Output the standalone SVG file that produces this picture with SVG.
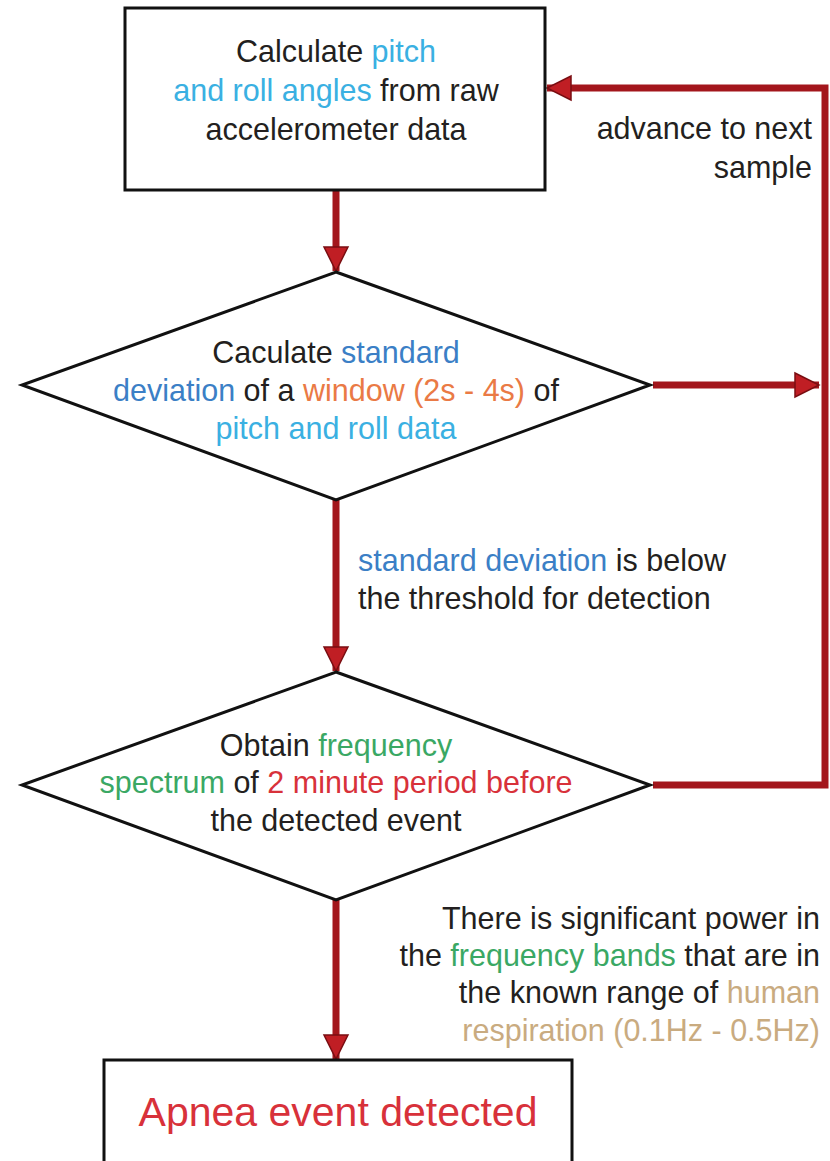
<svg xmlns="http://www.w3.org/2000/svg" width="830" height="1161" viewBox="0 0 830 1161">
<defs>
<style>
.t{font-family:"Liberation Sans Narrow","Liberation Sans",Arial,sans-serif;font-size:30.5px;fill:#231f20}
.node{fill:#fff;stroke:#111;stroke-width:3}
.c{fill:none;stroke:#a3161c;stroke-width:7}
.lb{fill:#3ab0e2}.mb{fill:#3b7fc6}.or{fill:#ea7a45}.gr{fill:#3aa864}.rd{fill:#d8313a}.tn{fill:#c9ab80}
</style>
<marker id="ah" markerUnits="userSpaceOnUse" markerWidth="28" markerHeight="28" viewBox="0 0 28 28" refX="26" refY="14" orient="auto">
<path d="M2,2 L26,14 L2,26 Z" fill="#c01e24" stroke="#7a0e12" stroke-width="1.5"/>
</marker>
</defs>
<rect width="830" height="1161" fill="#fff"/>
<g id="connectors">
<line class="c" x1="336" y1="191" x2="336" y2="271" marker-end="url(#ah)"/>
<line class="c" x1="336" y1="500" x2="336" y2="671" marker-end="url(#ah)"/>
<line class="c" x1="336" y1="900" x2="336" y2="1059" marker-end="url(#ah)"/>
<line class="c" x1="653" y1="385" x2="819" y2="385" marker-end="url(#ah)"/>
<polyline class="c" points="653,785 825,785 825,88 547,88" marker-end="url(#ah)"/>
<text class="t" x="812" y="139" text-anchor="end">advance to next</text>
<text class="t" x="812" y="178" text-anchor="end">sample</text>
<text class="t" x="358" y="571"><tspan class="mb">standard deviation</tspan> is below</text>
<text class="t" x="358" y="609">the threshold for detection</text>
<text class="t" x="820" y="929" text-anchor="end">There is significant power in</text>
<text class="t" x="820" y="966" text-anchor="end">the <tspan class="gr">frequency bands</tspan> that are in</text>
<text class="t" x="820" y="1003" text-anchor="end">the known range of <tspan class="tn">human</tspan></text>
<text class="t tn" x="820" y="1041" text-anchor="end">respiration (0.1Hz - 0.5Hz)</text>
</g>
<g id="n1">
<rect class="node" x="125" y="8" width="420" height="182"/>
<text class="t" x="336" y="62" text-anchor="middle">Calculate <tspan class="lb">pitch</tspan></text>
<text class="t" x="336" y="101" text-anchor="middle"><tspan class="lb">and roll angles</tspan> from raw</text>
<text class="t" x="336" y="140" text-anchor="middle">accelerometer data</text>
</g>
<g id="n2">
<polygon class="node" points="336,272 650,385 336,500 22,385"/>
<text class="t" x="336" y="363" text-anchor="middle">Caculate <tspan class="mb">standard</tspan></text>
<text class="t" x="336" y="401" text-anchor="middle"><tspan class="mb">deviation</tspan> of a <tspan class="or">window (2s - 4s)</tspan> of</text>
<text class="t lb" x="336" y="439" text-anchor="middle">pitch and roll data</text>
</g>
<g id="n3">
<polygon class="node" points="336,672 650,785 336,900 22,785"/>
<text class="t" x="336" y="756" text-anchor="middle">Obtain <tspan class="gr">frequency</tspan></text>
<text class="t" x="336" y="793" text-anchor="middle"><tspan class="gr">spectrum</tspan> of <tspan class="rd">2 minute period before</tspan></text>
<text class="t" x="336" y="831" text-anchor="middle">the detected event</text>
</g>
<g id="n4">
<rect class="node" x="104" y="1060" width="468" height="120"/>
<text class="t rd" x="338" y="1126" text-anchor="middle" style="font-size:41px">Apnea event detected</text>
</g>
</svg>
